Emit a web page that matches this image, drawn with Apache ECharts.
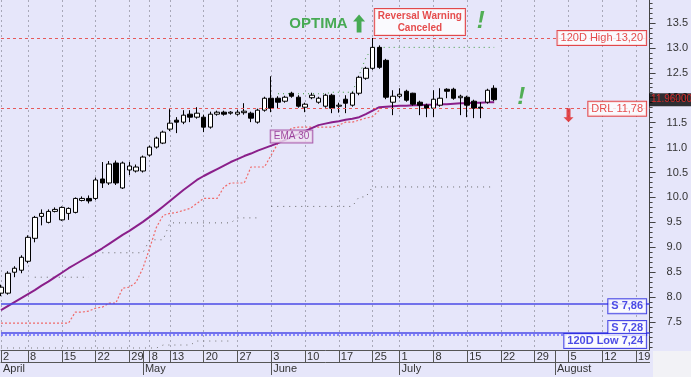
<!DOCTYPE html>
<html>
<head>
<meta charset="utf-8">
<script src="https://cdn.jsdelivr.net/npm/echarts@6/dist/echarts.min.js"></script>
<style>
html,body{margin:0;padding:0;background:#e6e6fa}
#chartsBox1{width:691px;height:377px}
</style>
</head>
<body>
<div id="chartsBox1"></div>
<script>
// trading days (weekdays, minus days missing in the feed)
var skipDays = ['2019-05-01','2019-05-02','2019-05-03','2019-05-06','2019-06-24'];
var days = [];
for (var d = new Date(Date.UTC(2019,3,2)); days.length < 97; d.setUTCDate(d.getUTCDate()+1)) {
    var wd = d.getUTCDay(), s = d.toISOString().slice(0,10);
    if (wd === 0 || wd === 6 || skipDays.indexOf(s) >= 0) continue;
    days.push(s);
}
var labelDays = ['2019-04-02','2019-04-08','2019-04-15','2019-04-22','2019-04-29','2019-05-08','2019-05-13',
    '2019-05-20','2019-05-27','2019-06-03','2019-06-10','2019-06-17','2019-06-25','2019-07-01','2019-07-08',
    '2019-07-15','2019-07-22','2019-07-29','2019-08-05','2019-08-12','2019-08-19'];
var monthNames = {'04':'April','05':'May','06':'June','07':'July','08':'August'};

var open  = [8.08,8.08,8.50,8.54,8.72,9.18,9.62,9.50,9.72,9.55,9.68,9.70,9.94,9.98,9.98,10.37,10.29,10.69,10.19,10.55,
    10.53,10.53,10.85,11.01,11.09,11.37,11.55,11.51,11.67,11.61,11.61,11.41,11.67,11.71,11.69,11.67,11.70,11.69,11.51,11.75,
    11.99,11.99,11.93,12.09,12.01,11.81,12.00,11.91,11.83,12.05,11.83,11.97,11.85,12.09,12.39,12.59,13.01,12.75,11.91,12.03,
    12.13,12.09,11.91,11.85,11.79,11.85,12.17,12.17,12.00,12.01,11.93,11.81,11.91,12.19];
var close = [8.20,8.48,8.58,8.80,9.20,9.60,9.68,9.72,9.76,9.80,9.78,9.98,9.98,9.93,10.35,10.29,10.67,10.29,10.69,10.63,
    10.61,10.81,11.01,11.19,11.31,11.49,11.51,11.65,11.61,11.69,11.41,11.67,11.71,11.67,11.71,11.71,11.73,11.59,11.75,11.99,
    11.79,11.91,12.01,12.03,11.83,11.87,12.05,11.99,12.05,11.79,11.85,11.89,12.09,12.41,12.59,13.01,12.61,12.01,12.03,12.07,
    11.95,11.87,11.85,11.79,11.97,11.99,12.13,11.99,12.03,11.85,11.79,11.79,12.15,11.96];
var low   = [8.02,8.05,8.40,8.48,8.68,9.10,9.44,9.48,9.70,9.53,9.55,9.68,9.92,9.88,9.95,10.19,10.25,10.25,10.17,10.45,
    10.50,10.50,10.82,10.98,11.07,11.33,11.29,11.47,11.51,11.58,11.31,11.38,11.64,11.64,11.66,11.64,11.66,11.51,11.48,11.72,
    11.71,11.79,11.90,12.00,11.80,11.71,11.97,11.88,11.80,11.69,11.70,11.69,11.82,12.05,12.36,12.56,12.58,11.97,11.65,11.99,
    11.92,11.84,11.65,11.61,11.61,11.82,11.99,11.96,11.65,11.61,11.59,11.59,11.88,11.93];
var high  = [8.25,8.52,8.62,8.84,9.24,9.63,9.76,9.76,9.80,9.82,9.80,10.00,10.02,10.04,10.40,10.71,10.73,10.74,10.72,10.71,
    10.66,10.84,11.04,11.22,11.34,11.77,11.61,11.75,11.75,11.81,11.66,11.72,11.74,11.74,11.73,11.76,11.89,11.72,11.78,12.02,
    12.43,12.03,12.04,12.12,12.05,11.90,12.10,12.02,12.08,12.08,11.90,12.05,12.12,12.44,12.62,13.20,13.05,12.78,12.15,12.19,
    12.16,12.10,11.94,11.88,12.15,12.19,12.19,12.20,12.06,12.04,11.96,11.91,12.18,12.25];
var ema30 = [7.74,7.82,7.90,7.98,8.06,8.14,8.23,8.31,8.40,8.49,8.58,8.66,8.74,8.82,8.90,8.98,9.07,9.16,9.25,9.33,
    9.42,9.51,9.61,9.71,9.82,9.93,10.04,10.15,10.25,10.35,10.43,10.50,10.57,10.64,10.71,10.77,10.83,10.88,10.94,10.99,
    11.04,11.09,11.15,11.21,11.27,11.33,11.39,11.45,11.48,11.51,11.53,11.56,11.58,11.61,11.67,11.74,11.81,11.82,11.83,11.84,
    11.84,11.85,11.85,11.86,11.86,11.87,11.87,11.88,11.89,11.89,11.90,11.90,11.91,11.91];
var stopLine = [7.48,7.48,7.48,7.48,7.48,7.48,7.48,7.48,7.48,7.48,7.48,7.70,7.70,7.72,7.78,7.80,7.88,7.88,8.18,8.20,
    8.30,8.58,8.98,9.40,9.64,9.68,9.70,9.74,9.78,9.88,9.98,9.98,9.98,10.21,10.29,10.29,10.29,10.61,10.61,10.61,
    10.85,11.09,11.25,11.39,11.41,11.41,11.41,11.41,11.41,11.41,11.45,11.51,11.51,11.55,11.59,11.62,11.75];
var lowerBand = [null,null,null,null,null,8.40,8.40,8.40,8.40,8.40,8.40,8.40,8.40,8.40,null,8.89,8.89,8.89,8.89,8.89,
    8.89,8.89,9.15,9.15,9.15,9.49,9.49,9.49,9.49,9.49,9.49,9.49,9.49,9.49,9.49,9.59,9.59,9.59,9.59,null,
    9.82,9.82,9.82,9.82,9.82,9.82,9.82,9.82,9.82,9.82,9.82,9.82,9.82,10.01,10.01,10.21,10.21,10.21,10.21,10.21,
    10.21,10.21,10.21,10.21,10.21,10.21,10.21,10.21,10.21,10.21,10.21,10.21,10.21,10.21];
var bottomBand = [6.98,6.98,6.98,6.98,6.98,6.98,6.98,6.98,6.98,6.98,6.98,6.98,6.98,6.98,6.98,6.98,6.98,6.98,6.98,6.98,
    6.98,6.98,6.98,6.98,7.04,7.04,7.04,7.04,7.04,7.12,7.12,7.12,7.12,7.12,7.12];
var highLine = [null,null,null,null,null,null,null,null,null,null,null,null,null,null,null,null,null,null,null,null,
    null,null,null,null,null,null,null,null,null,null,null,null,null,null,null,null,null,null,null,null,
    null,12.08,12.08,12.08,12.08,12.08,12.08,12.08,12.08,12.11,12.11,12.11,12.11,12.45,12.80,13.01,13.01,13.01,13.01,13.01,
    13.01,13.01,13.01,13.01,13.01,13.01,13.01,13.01,13.01,13.01,13.01,13.01,13.01,13.01];
var yTicks = [7.5,8,8.5,9,9.5,10,10.5,11,11.5,12,12.5,13,13.5];
var yMinor = [];
for (var t = 70; t <= 139; t++) yMinor.push(t / 10);

var candles = open.map(function (o, i) { return [o, close[i], low[i], high[i]]; });
var font = 'Liberation Sans, Arial, sans-serif';
function isLabelDay(i, v) { return labelDays.indexOf(v) >= 0; }
function isMonthStart(i, v) { return i > 0 && v.slice(5,7) !== days[i-1].slice(5,7); }

var redTag = {color:'#e02020', borderColor:'#e02020'};
var blueTag = {color:'#2020e0', borderColor:'#2020e0', fontWeight:'bold'};

option1 = {
    backgroundColor: '#e6e6fa',
    animation: false,
    grid: {left: 0, right: 39, top: 0, bottom: 27},
    graphic: [{type:'rect', right:0, bottom:0, shape:{width:38, height:26}, style:{fill:'#f2f2f6'}}],
    xAxis: [
        {
            type: 'category', data: days, boundaryGap: false,
            axisLine: {lineStyle: {color: '#555'}},
            axisTick: {length: 12, interval: function (i, v) { return isLabelDay(i, v) || isMonthStart(i, v); }, lineStyle: {color: '#555'}},
            axisLabel: {interval: isLabelDay, align: 'left', padding: [0,0,0,2], margin: 1, color: '#333', fontSize: 11, fontFamily: font,
                formatter: function (v) { return String(parseInt(v.slice(8), 10)); }},
            splitLine: {show: true, interval: isLabelDay, lineStyle: {color: '#a8a8b8', type: [2,3]}}
        },
        {
            type: 'category', data: days, boundaryGap: false, position: 'bottom', offset: 12,
            axisLine: {lineStyle: {color: '#555'}},
            axisTick: {length: 13, interval: isMonthStart, lineStyle: {color: '#555'}},
            axisLabel: {interval: function (i, v) { return i === 0 || isMonthStart(i, v); }, align: 'left', padding: [0,0,0,2], margin: 1,
                color: '#333', fontSize: 11, fontFamily: font,
                formatter: function (v) { return monthNames[v.slice(5,7)]; }},
            splitLine: {show: false}
        }
    ],
    yAxis: [
        {
            type: 'value', position: 'right', min: 6.94, max: 13.96,
            axisLine: {show: true, lineStyle: {color: '#444'}},
            axisTick: {show: true, length: 6, customValues: yTicks, lineStyle: {color: '#444'}},
            axisLabel: {customValues: yTicks, margin: 17, color: '#333', fontSize: 11, fontFamily: font,
                formatter: function (v) { return v.toFixed(1); }},
            splitLine: {show: false}
        },
        {
            type: 'value', position: 'right', min: 6.94, max: 13.96,
            axisLine: {show: false},
            axisTick: {show: true, length: 3, customValues: yMinor, lineStyle: {color: '#444'}},
            axisLabel: {show: false},
            splitLine: {show: false}
        }
    ],
    series: [
        {
            type: 'line', data: bottomBand, symbol: 'none', z: 2,
            lineStyle: {color: '#777', width: 1, type: [1,5]}
        },
        {
            type: 'line', data: lowerBand, symbol: 'none', z: 2,
            lineStyle: {color: '#666', width: 1, type: [1,5]}
        },
        {
            type: 'line', data: highLine, symbol: 'none', z: 2,
            lineStyle: {color: '#3c9a3c', width: 1, type: [1,4]}
        },
        {
            type: 'line', data: stopLine, symbol: 'none', z: 2,
            lineStyle: {color: '#f06a6a', width: 1.2, type: [2,2]}
        },
        {
            type: 'line', data: ema30, symbol: 'none', z: 3,
            lineStyle: {color: '#8a1f8a', width: 2}
        },
        {
            type: 'candlestick', data: candles, barWidth: 5, z: 4,
            itemStyle: {color: '#fff', color0: '#000', borderColor: '#000', borderColor0: '#000', borderWidth: 1},
            markLine: {
                symbol: ['none','none'], silent: true, label: {show: false},
                data: [
                    {yAxis: 13.2, lineStyle: {color: '#e65a5a', type: [3,3], width: 1}},
                    {yAxis: 11.78, lineStyle: {color: '#e65a5a', type: [3,3], width: 1}},
                    {yAxis: 7.86, lineStyle: {color: '#4a4ae6', type: 'solid', width: 1.5}},
                    {yAxis: 7.28, lineStyle: {color: '#4a4ae6', type: 'solid', width: 1.5}},
                    {yAxis: 7.24, lineStyle: {color: '#6a6aff', type: [2,2], width: 1.5}}
                ]
            }
        },
        {
            // level tags on the right
            type: 'scatter', clip: false, symbolSize: 1, itemStyle: {color: 'transparent'}, z: 6,
            label: {show: true, position: 'left', distance: 3, backgroundColor: '#fff', borderWidth: 1,
                padding: [2,3,1,3], fontSize: 11, fontFamily: font},
            data: [
                {value: [96, 13.2], label: Object.assign({formatter: '120D High 13,20'}, redTag)},
                {value: [96, 11.78], label: Object.assign({formatter: 'DRL 11,78'}, redTag)},
                {value: [96, 7.86], label: Object.assign({formatter: 'S 7,86', offset: [0,2]}, blueTag)},
                {value: [96, 7.28], label: Object.assign({formatter: 'S 7,28', offset: [0,-5]}, blueTag)},
                {value: [96, 7.24], label: Object.assign({formatter: '120D Low 7,24', offset: [0,6]}, blueTag)}
            ]
        },
        {
            // last price
            type: 'scatter', clip: false, symbolSize: 1, itemStyle: {color: 'transparent'}, z: 7,
            label: {show: true, position: 'right', distance: -1, formatter: '11.96000', color: '#ff2a2a',
                backgroundColor: '#000', padding: [2,2,1,2], fontSize: 10, fontFamily: font},
            data: [[96, 11.96]]
        },
        {
            // annotations
            type: 'scatter', clip: false, symbolSize: 1, itemStyle: {color: 'transparent'}, z: 6,
            label: {show: true, position: 'inside', fontFamily: font},
            data: [
                {value: [47.1, 13.49], label: {formatter: 'OPTIMA', color: '#1f9b2b', fontWeight: 'bold', fontSize: 15}},
                {value: [62.4, 13.52], label: {formatter: 'Reversal Warning\nCanceled', color: '#e02020', fontWeight: 'bold',
                    fontSize: 10, lineHeight: 12, align: 'center', backgroundColor: '#fff', borderColor: '#e02020', borderWidth: 1, padding: [1,3]}},
                {value: [70.8, 13.53], label: {formatter: '!', color: '#2ca02c', fontWeight: 'bold', fontStyle: 'italic', fontSize: 24}},
                {value: [76.7, 12.01], label: {formatter: '!', color: '#2ca02c', fontWeight: 'bold', fontStyle: 'italic', fontSize: 24}},
                {value: [42.8, 11.22], label: {formatter: 'EMA 30', color: '#8a1f8a', fontSize: 10, backgroundColor: '#efe3f2',
                    borderColor: '#9a3a9a', borderWidth: 1, padding: [1,3]}}
            ]
        },
        {
            // arrows
            type: 'scatter', clip: false, z: 6,
            data: [
                {value: [53.0, 13.49], symbol: 'path://M5,0 L10,7 L7,7 L7,18 L3,18 L3,7 L0,7 Z', symbolSize: [12,18], itemStyle: {color: '#1f9b2b'}},
                {value: [84.4, 11.65], symbol: 'path://M3,0 L7,0 L7,9 L10,9 L5,14 L0,9 L3,9 Z', symbolSize: [10,14], itemStyle: {color: '#e02020'}}
            ]
        }
    ]
};

var chartsBox1 = echarts.init(document.getElementById('chartsBox1'));
chartsBox1.setOption(option1);
</script>
</body>
</html>
